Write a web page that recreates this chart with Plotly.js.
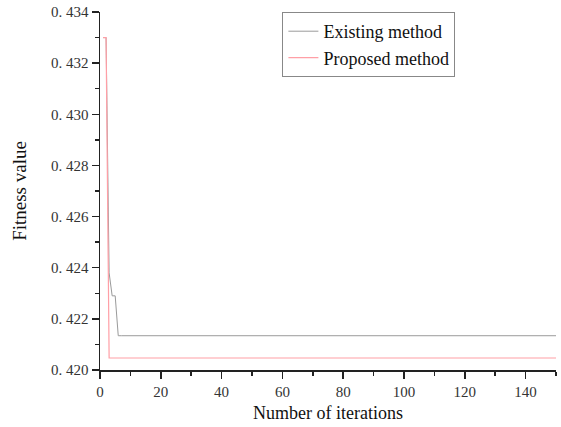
<!DOCTYPE html>
<html>
<head>
<meta charset="utf-8">
<script src="https://cdn.plot.ly/plotly-3.0.1.min.js"></script>
<style>html,body{margin:0;padding:0;background:#fff;}#chart{width:561px;height:427px;}</style>
</head>
<body>
<div id="chart"></div>
<script>
// Data
const iterations = Array.from({length: 150}, (_, i) => i + 1);
const existingHead = [0.433, 0.433, 0.4238, 0.4229, 0.4229, 0.42134];
const existingTail = 0.42134;
const proposedHead = [0.433, 0.433, 0.42047];
const proposedTail = 0.42047;
const existing = iterations.map((it, i) => i < existingHead.length ? existingHead[i] : existingTail);
const proposed = iterations.map((it, i) => i < proposedHead.length ? proposedHead[i] : proposedTail);

const yTickVals = [0.420, 0.422, 0.424, 0.426, 0.428, 0.430, 0.432, 0.434];
const yTickText = ["0. 420", "0. 422", "0. 424", "0. 426", "0. 428", "0. 430", "0. 432", "0. 434"];
const xTickVals = [0, 20, 40, 60, 80, 100, 120, 140];

const serif = "Liberation Serif, Times New Roman, serif";

const traces = [
  {x: iterations, y: existing, type: 'scatter', mode: 'lines', name: 'Existing method',
   line: {color: '#9a9a9a', width: 1}},
  {x: iterations, y: proposed, type: 'scatter', mode: 'lines', name: 'Proposed method',
   line: {color: '#ff9fa6', width: 1.2}}
];

const layout = {
  width: 561, height: 427,
  margin: {l: 100, r: 5, t: 12, b: 57},
  paper_bgcolor: '#fff', plot_bgcolor: '#fff',
  font: {family: serif, color: '#222', size: 15},
  showlegend: true,
  legend: {
    x: 0.40, y: 1.0, xanchor: 'left', yanchor: 'top',
    bgcolor: '#fff', bordercolor: '#888', borderwidth: 1,
    font: {family: serif, size: 18, color: '#111'},
    tracegroupgap: 0
  },
  xaxis: {
    range: [0, 150], showgrid: false, zeroline: false,
    showline: true, linecolor: '#222', linewidth: 1.5,
    ticks: 'outside', ticklen: 7, tickwidth: 1.5, tickcolor: '#222',
    tickvals: xTickVals, ticktext: xTickVals.map(String),
    minor: {tickvals: [10, 30, 50, 70, 90, 110, 130, 150], ticks: 'outside', ticklen: 4, tickwidth: 1.5, tickcolor: '#222'},
    tickfont: {family: serif, size: 15, color: '#333'},
    title: {text: 'Number of iterations', font: {family: serif, size: 18, color: '#111'}, standoff: 8}
  },
  yaxis: {
    range: [0.420, 0.434], showgrid: false, zeroline: false,
    showline: true, linecolor: '#222', linewidth: 1.5,
    ticks: 'outside', ticklen: 7, tickwidth: 1.5, tickcolor: '#222',
    tickvals: yTickVals, ticktext: yTickText,
    minor: {tickvals: [0.421, 0.423, 0.425, 0.427, 0.429, 0.431, 0.433], ticks: 'outside', ticklen: 4, tickwidth: 1.5, tickcolor: '#222'},
    tickfont: {family: serif, size: 15, color: '#333'},
    title: {text: 'Fitness value', font: {family: serif, size: 19, color: '#111'}, standoff: 19}
  }
};

Plotly.newPlot('chart', traces, layout, {displayModeBar: false, staticPlot: true});
</script>
</body>
</html>
